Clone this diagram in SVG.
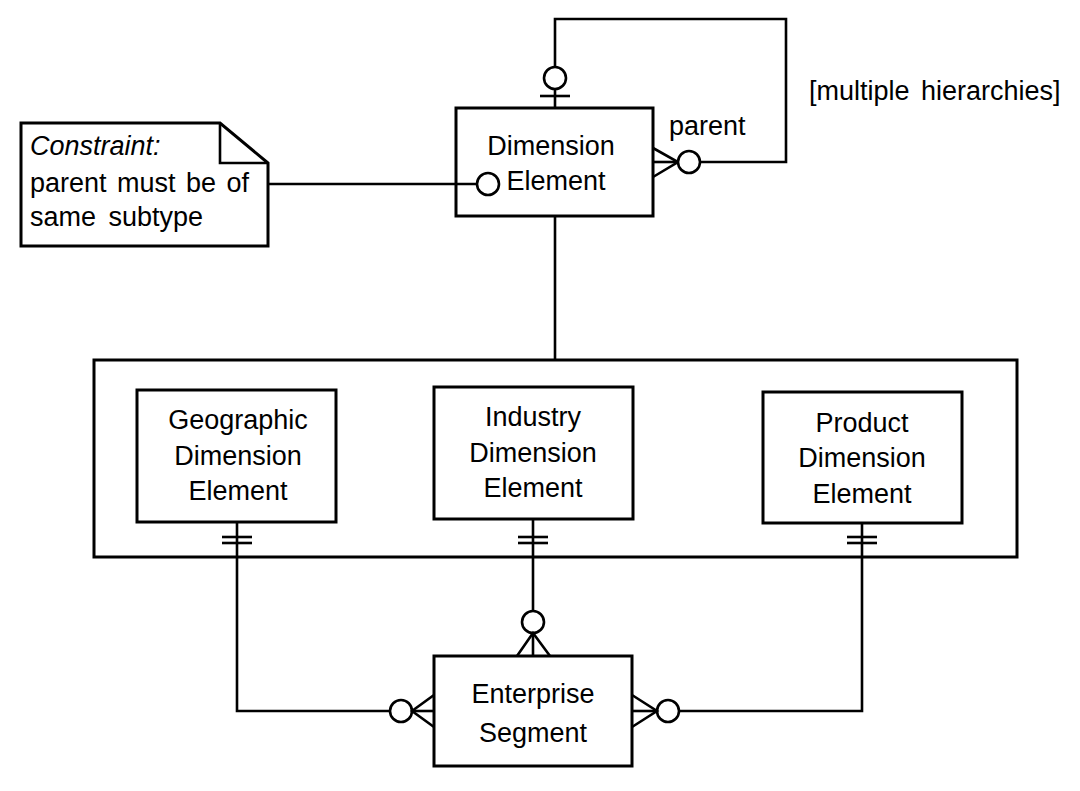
<svg xmlns="http://www.w3.org/2000/svg" width="1080" height="791" viewBox="0 0 1080 791">
<style>
.box{fill:#fff;stroke:#000;stroke-width:3}
.ln{fill:none;stroke:#000;stroke-width:2.6;stroke-linejoin:miter}
.circ{fill:#fff;stroke:#000;stroke-width:2.6}
text{font-family:"Liberation Sans",Arial,sans-serif;font-size:27px;fill:#000}
.c{text-anchor:middle}
</style>
<rect width="1080" height="791" fill="#fff"/>
<g id="connectors">
  <!-- self loop -->
  <polyline class="ln" points="555,108 555,19 786,19 786,162 700,162"/>
  <line class="ln" x1="540" y1="96" x2="570" y2="96"/>
  <circle class="circ" cx="555" cy="78" r="11"/>
  <polyline class="ln" points="653,148 678,162 653,177"/>
  <line class="ln" x1="653" y1="162" x2="678" y2="162"/>
  <circle class="circ" cx="689" cy="162" r="11"/>
  <!-- note link -->
  <line class="ln" x1="268" y1="184" x2="477" y2="184"/>
  <circle class="circ" cx="488" cy="184" r="11"/>
  <!-- dimension to supertype container -->
  <line class="ln" x1="555" y1="216" x2="555" y2="360"/>
  <!-- geographic to enterprise -->
  <polyline class="ln" points="237,522 237,711 390,711"/>
  <line class="ln" x1="222" y1="537" x2="252" y2="537"/>
  <line class="ln" x1="222" y1="543" x2="252" y2="543"/>
  <circle class="circ" cx="401" cy="711" r="11"/>
  <polyline class="ln" points="434,695 412,711 434,727"/>
  <line class="ln" x1="412" y1="711" x2="434" y2="711"/>
  <!-- industry to enterprise -->
  <line class="ln" x1="533" y1="519" x2="533" y2="611"/>
  <line class="ln" x1="518" y1="537" x2="548" y2="537"/>
  <line class="ln" x1="518" y1="543" x2="548" y2="543"/>
  <circle class="circ" cx="533" cy="622" r="11"/>
  <polyline class="ln" points="517,656 533,633 550,656"/>
  <line class="ln" x1="533" y1="633" x2="533" y2="656"/>
  <!-- product to enterprise -->
  <polyline class="ln" points="862,523 862,711 679,711"/>
  <line class="ln" x1="847" y1="537" x2="877" y2="537"/>
  <line class="ln" x1="847" y1="543" x2="877" y2="543"/>
  <circle class="circ" cx="668" cy="711" r="11"/>
  <polyline class="ln" points="632,695 657,711 632,727"/>
  <line class="ln" x1="632" y1="711" x2="657" y2="711"/>
</g>
<g id="label-multiple">
  <text x="809" y="100" word-spacing="4">[multiple hierarchies]</text>
</g>
<g id="label-parent">
  <text x="669" y="135">parent</text>
</g>
<g id="note">
  <path class="box" d="M21,123 L220,123 L268,163 L268,246 L21,246 Z"/>
  <polyline class="ln" points="220,123 220,163 268,163"/>
  <text x="30" y="155" font-style="italic">Constraint:</text>
  <text x="30" y="192" word-spacing="3">parent must be of</text>
  <text x="30" y="226" word-spacing="5">same subtype</text>
</g>
<g id="dimension-element">
  <rect class="box" x="456" y="108" width="197" height="108" fill="none" style="fill:none"/>
  <text class="c" x="551" y="155">Dimension</text>
  <text class="c" x="556" y="190">Element</text>
</g>
<g id="supertype">
  <rect class="box" x="94" y="360" width="923" height="197" style="fill:none"/>
</g>
<g id="geographic">
  <rect class="box" x="137" y="390" width="199" height="132"/>
  <text class="c" x="238" y="429">Geographic</text>
  <text class="c" x="238" y="465">Dimension</text>
  <text class="c" x="238" y="500">Element</text>
</g>
<g id="industry">
  <rect class="box" x="434" y="387" width="199" height="132"/>
  <text class="c" x="533" y="426">Industry</text>
  <text class="c" x="533" y="462">Dimension</text>
  <text class="c" x="533" y="497">Element</text>
</g>
<g id="product">
  <rect class="box" x="763" y="392" width="199" height="131"/>
  <text class="c" x="862" y="432">Product</text>
  <text class="c" x="862" y="467">Dimension</text>
  <text class="c" x="862" y="503">Element</text>
</g>
<g id="enterprise">
  <rect class="box" x="434" y="656" width="198" height="110"/>
  <text class="c" x="533" y="703">Enterprise</text>
  <text class="c" x="533" y="742">Segment</text>
</g>
</svg>
